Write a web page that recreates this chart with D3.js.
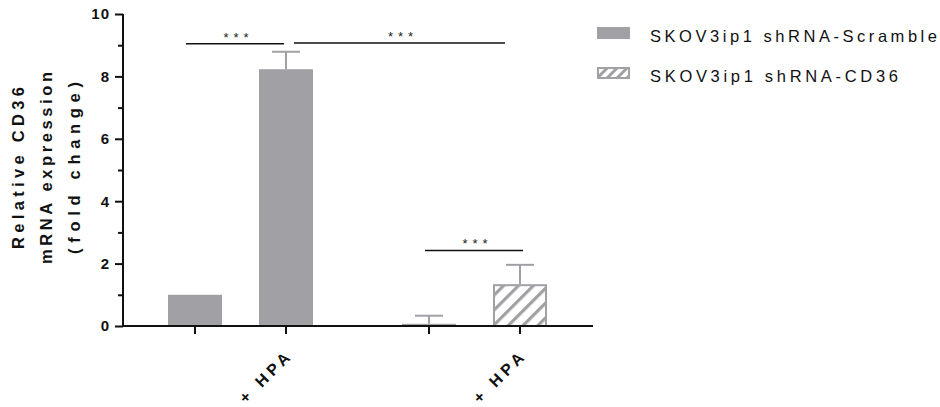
<!DOCTYPE html>
<html><head><meta charset="utf-8">
<script src="https://cdn.jsdelivr.net/npm/d3@7"></script>
<style>body{margin:0;background:#fff}svg{display:block}text{font-family:"Liberation Sans",Arial,sans-serif}</style>
</head><body><svg id="c" width="940" height="407"></svg>
<script>
const categories = ["c1", "c2", "c3", "c4"];
const tickLabels = ["", "+ HPA", "", "+ HPA"];
const groups = ["SKOV3ip1 shRNA-Scramble", "SKOV3ip1 shRNA-Scramble", "SKOV3ip1 shRNA-CD36", "SKOV3ip1 shRNA-CD36"];
const means = [1.0, 8.23, 0.07, 1.34];
const errs = [0, 0.56, 0.26, 0.62];
const seriesNames = ["SKOV3ip1 shRNA-Scramble", "SKOV3ip1 shRNA-CD36"];
const sigFrom = [0, 1, 2];
const sigTo = [1, 3, 3];
const sigY = [9.05, 9.07, 2.42];
const sigLabel = ["***", "***", "***"];
const yTicks = [0, 2, 4, 6, 8, 10];

const svg = d3.select("#c");
const grey = "#a1a0a5";
const defs = svg.append("defs");
function hatch(id, period, thick){
  const p = defs.append("pattern").attr("id",id).attr("patternUnits","userSpaceOnUse")
    .attr("width",period).attr("height",period).attr("patternTransform","rotate(45)");
  p.append("rect").attr("width",period).attr("height",period).attr("fill","#fff");
  p.append("rect").attr("x",0).attr("width",thick).attr("height",period).attr("fill",grey);
}
hatch("hatch", 10.5, 3.2);
hatch("hatchL", 7, 3);

const y = d3.scaleLinear().domain([0,10]).range([326,14]);
const x = d3.scaleOrdinal().domain(categories).range([195, 286, 429, 520]);
const bw = 54;

// y axis
const gy = svg.append("g").attr("transform","translate(123,0)");
gy.call(d3.axisLeft(y).tickValues(yTicks).tickSize(8).tickPadding(5).tickFormat(d3.format("d")));
gy.call(g=>g.selectAll(".tick text").attr("font-size",15).attr("font-weight","bold").attr("letter-spacing","1px").attr("fill","#111"));
gy.call(g=>g.selectAll("line,path").attr("stroke","#111").attr("stroke-width",2));
gy.select(".domain").attr("d","M0,326V14");
svg.append("g").attr("transform","translate(123,0)")
  .call(d3.axisLeft(y).tickValues([1,3,5,7,9]).tickSize(5).tickFormat(""))
  .call(g=>g.select(".domain").remove())
  .call(g=>g.selectAll("line").attr("stroke","#111").attr("stroke-width",2));

// bars
categories.forEach((c,i)=>{
  const hatched = groups[i]===seriesNames[1];
  const cx = x(c);
  if(hatched){
    svg.append("rect").attr("x",cx-bw/2+1).attr("y",y(means[i])+1).attr("width",bw-2).attr("height",y(0)-y(means[i])-1)
      .attr("fill","url(#hatch)").attr("stroke",grey).attr("stroke-width",2);
  } else {
    svg.append("rect").attr("x",cx-bw/2).attr("y",y(means[i])).attr("width",bw).attr("height",y(0)-y(means[i]))
      .attr("fill",grey);
  }
  if(errs[i]>0){
    svg.append("line").attr("x1",cx).attr("x2",cx).attr("y1",y(means[i])).attr("y2",y(means[i]+errs[i])).attr("stroke",grey).attr("stroke-width",2);
    svg.append("line").attr("x1",cx-14).attr("x2",cx+14).attr("y1",y(means[i]+errs[i])).attr("y2",y(means[i]+errs[i])).attr("stroke",grey).attr("stroke-width",2);
  }
});

// x axis
svg.append("line").attr("x1",123).attr("x2",593).attr("y1",y(0)).attr("y2",y(0)).attr("stroke","#111").attr("stroke-width",2);
categories.forEach((c,i)=>{
  svg.append("line").attr("x1",x(c)).attr("x2",x(c)).attr("y1",y(0)).attr("y2",y(0)+8).attr("stroke","#111").attr("stroke-width",2);
  if(tickLabels[i]){
    svg.append("text").attr("transform",`translate(${x(c)+5},${y(0)+33}) rotate(-45)`)
      .attr("text-anchor","end").attr("font-size",16).attr("font-weight","bold").attr("fill","#111")
      .attr("textLength",64).attr("lengthAdjust","spacing")
      .text(tickLabels[i]);
  }
});

// significance
const sigX1 = [186, 294, 425], sigX2 = [284, 505, 523];
sigFrom.forEach((f,i)=>{
  const x1 = sigX1[i], x2 = sigX2[i];
  svg.append("line").attr("x1",x1).attr("x2",x2).attr("y1",y(sigY[i])).attr("y2",y(sigY[i])).attr("stroke","#111").attr("stroke-width",1.5);
  svg.append("text").attr("x",(x1+x2)/2 + 1).attr("y",y(sigY[i])-2).attr("text-anchor","middle").attr("font-size",13)
    .attr("textLength",25).attr("lengthAdjust","spacing").attr("fill","#222").text(sigLabel[i]);
});

// y title
const titleLines = ["Relative CD36","mRNA expression","(fold change)"];
const titleLens = [162, 192, 172];
const yt = svg.append("g").attr("transform","translate(46,168) rotate(-90)");
titleLines.forEach((t,i)=>{
  yt.append("text").attr("x",0).attr("y",-22+i*28).attr("text-anchor","middle")
    .attr("font-size",16.5).attr("font-weight","bold").attr("fill","#111")
    .attr("textLength",titleLens[i]).attr("lengthAdjust","spacing").text(t);
});

// legend
const legLens = [287, 248];
seriesNames.forEach((s,i)=>{
  const ly = 36 + i*40;
  if(i===0){
    svg.append("rect").attr("x",597).attr("y",ly-9).attr("width",33).attr("height",12).attr("fill",grey);
  } else {
    svg.append("rect").attr("x",598).attr("y",ly-8).attr("width",31).attr("height",10).attr("fill","url(#hatchL)").attr("stroke",grey).attr("stroke-width",2);
  }
  svg.append("text").attr("x",650).attr("y",ly+6).attr("font-size",16.5).attr("fill","#111")
    .attr("textLength",legLens[i]).attr("lengthAdjust","spacing").text(s);
});
</script></body></html>
